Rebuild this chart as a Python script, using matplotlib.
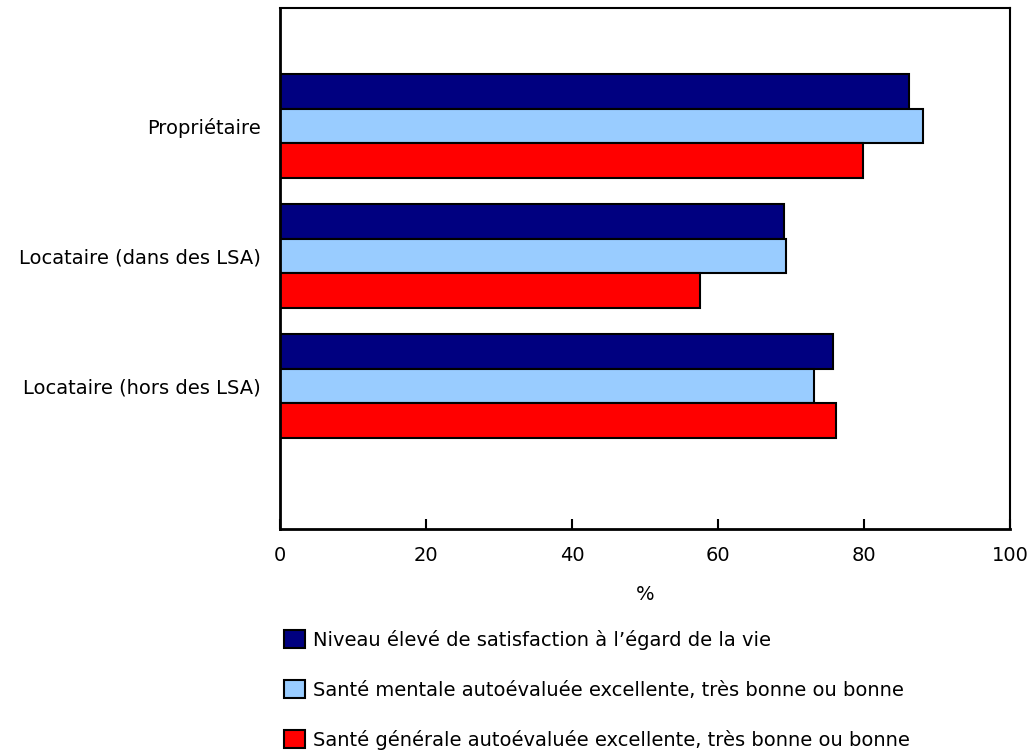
import numpy as np
import matplotlib
matplotlib.use("Agg")
from matplotlib import pyplot as plt
from matplotlib.patches import Patch

# donnees
categories = ["Propriétaire", "Locataire (dans des LSA)", "Locataire (hors des LSA)"]
satisfaction = [86.2, 69.0, 75.8]
sante_mentale = [88.1, 69.3, 73.1]
sante_generale = [79.8, 57.5, 76.1]
series_labels = ["Niveau élevé de satisfaction à l’égard de la vie",
                 "Santé mentale autoévaluée excellente, très bonne ou bonne",
                 "Santé générale autoévaluée excellente, très bonne ou bonne"]
colors = ["#000080", "#99CCFF", "#FF0000"]
xticks = [0, 20, 40, 60, 80, 100]

plt.rcParams['font.family'] = ['DejaVu Sans']
fs = 14

fig = plt.figure(figsize=(10.29, 7.51), dpi=100)
ax = fig.add_axes([280 / 1029, 1 - 529 / 751, 730 / 1029, 521 / 751])

y = np.arange(len(categories))
h = 0.267
for i, vals in enumerate([satisfaction, sante_mentale, sante_generale]):
    ax.barh(y + (i - 1) * h, vals, height=h, color=colors[i],
            edgecolor="black", linewidth=1.5)

ax.set_xlim(0, 100)
ax.set_ylim(len(categories) - 1 + 1.1, -0.908)
ax.set_xticks(xticks)
ax.set_xticklabels([str(t) for t in xticks], fontsize=fs)
ax.set_yticks(y)
ax.set_yticklabels(categories, fontsize=fs)
ax.tick_params(axis="x", direction="in", length=7, width=1.5, pad=12)
ax.tick_params(axis="y", length=0, pad=14)
for s in ["bottom", "left"]:
    ax.spines[s].set_linewidth(2)
for s in ["top", "right"]:
    ax.spines[s].set_linewidth(1.5)
ax.set_xlabel("%", fontsize=fs, labelpad=15)

# legende
handles = [Patch(facecolor=c, edgecolor="black", linewidth=1.5) for c in colors]
fig.legend(handles, series_labels, loc="upper left",
           bbox_to_anchor=(266 / 1029, 1 - 612 / 751), frameon=False,
           fontsize=fs, handlelength=1.1, handleheight=1.1,
           handletextpad=0.4, labelspacing=1.55)

fig.savefig("out.png", dpi=100)
